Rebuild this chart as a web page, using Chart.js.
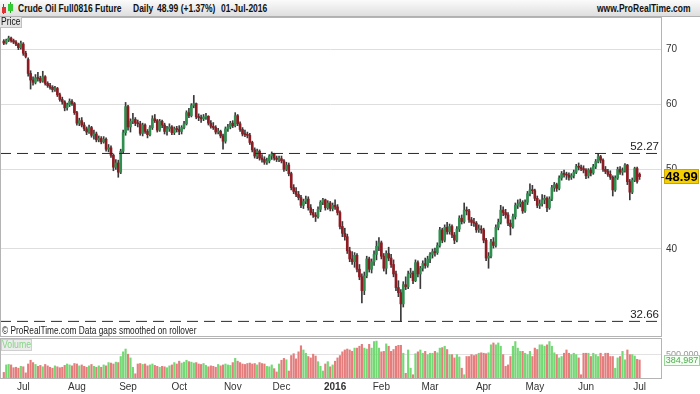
<!DOCTYPE html>
<html><head><meta charset="utf-8">
<script src="https://cdn.jsdelivr.net/npm/chart.js@4.4.1/dist/chart.umd.min.js"></script>
<style>
body{margin:0;width:700px;height:394px;overflow:hidden;background:#fff;position:relative;font-family:"Liberation Sans",Arial,sans-serif;color:#111}
.a{position:absolute;white-space:nowrap}
#hdr{left:0;top:0;width:700px;height:16px;background:linear-gradient(#fbfbfb,#dedede);border-bottom:1px solid #b0b0b0}
.ht{top:2px;font-size:10px;font-weight:bold;line-height:13px;transform:scaleX(0.85);transform-origin:0 0}
#pricebox{left:0;top:17px;width:21px;height:10px;background:#e4e4e4;border:1px solid #c0c0c0;border-top:none;border-left:none}
#pricetxt{left:1px;top:17px;font-size:10px;line-height:10px;transform:scaleX(0.85);transform-origin:0 0}
#pc,#vc{position:absolute;left:0}
#foot{left:2px;top:325px;font-size:10px;line-height:11px;color:#222;transform:scaleX(0.83);transform-origin:0 0}
.frame{border:1px solid #b4b4b4;box-sizing:border-box;pointer-events:none}
#vollbl{left:1px;top:339px;width:29px;height:10px;background:#ececec;border:1px solid #cfcfcf}
#voltxt{left:2px;top:339px;font-size:10px;line-height:11px;color:#86d486;transform:scaleX(0.87);transform-origin:0 0}
.lvl{font-size:11.5px;line-height:12px;color:#222;text-align:right}
#lastbox{left:664px;width:35px;height:15px;background:#f6cf00;border:1px solid #c9a400;box-sizing:border-box;font-weight:bold;font-size:13px;line-height:14px;text-align:center;color:#000}
#lasttick{left:661px;width:4px;height:1px;background:#555}
#vlast{left:664px;width:34px;height:9px;background:#f4fff4;border:1px solid #9ad69a;font-size:9px;line-height:9px;color:#4cab4c;text-align:center}
</style></head>
<body>
<div id="hdr" class="a"></div>
<div class="a" style="left:3px;top:4px;width:1px;height:10px;background:#a33"></div>
<div class="a" style="left:2px;top:7px;width:4px;height:6px;background:#d33"></div>
<div class="a" style="left:10px;top:2px;width:1px;height:11px;background:#393"></div>
<div class="a" style="left:8px;top:4px;width:5px;height:7px;background:#3c3"></div>
<div class="a ht" style="left:18px">Crude Oil Full0816 Future</div>
<div class="a ht" style="left:133px">Daily</div>
<div class="a ht" style="left:157px">48.99 (+1.37%)</div>
<div class="a ht" style="left:221px">01-Jul-2016</div>
<div class="a ht" style="left:597px">www.ProRealTime.com</div>

<canvas id="pc" width="700" height="320" style="top:17px"></canvas>
<canvas id="vc" width="700" height="57" style="top:337px"></canvas>
<div class="a frame" style="left:0;top:17px;width:662px;height:320px"></div>
<div class="a frame" style="left:0;top:338px;width:662px;height:41px"></div>
<div id="pricebox" class="a"></div>
<div id="pricetxt" class="a">Price</div>
<div id="foot" class="a">© ProRealTime.com Data gaps smoothed on rollover</div>
<div id="vollbl" class="a"></div>
<div id="voltxt" class="a">Volume</div>
<div id="hiLbl" class="a lvl" style="right:41px"></div>
<div id="loLbl" class="a lvl" style="right:41px"></div>
<div id="lasttick" class="a"></div>
<div id="lastbox" class="a"></div>
<div id="vlast" class="a"></div>

<script>
// ---- categories (trading days) ----
const firstDay = '2015-06-19', lastDay = '2016-07-01';
const holidays = ['2015-07-03','2015-09-07','2015-11-26','2015-12-25','2016-01-01','2016-01-18','2016-02-15','2016-03-25','2016-05-30'];
const monthNames = ['Jan','Feb','Mar','Apr','May','Jun','Jul','Aug','Sep','Oct','Nov','Dec'];
const priceTicks = [40, 50, 60, 70];
const volumeTicks = [500];
const levels = [52.27, 32.66];

// ---- series values ----
const open = [71.6,71.2,71.8,72.2,71.7,71.4,71.0,70.3,71.0,69.2,
68.0,65.4,64.2,63.8,64.6,64.5,64.0,64.8,63.6,63.2,
62.9,62.5,62.7,61.6,60.8,60.4,59.4,59.9,60.5,60.1,
58.6,56.9,57.3,56.6,56.0,55.5,56.2,55.0,55.2,54.3,
54.5,54.0,54.4,52.9,53.1,52.0,50.3,50.9,49.6,52.6,
55.4,59.6,56.3,57.2,57.5,56.9,56.8,55.3,56.6,55.6,
55.1,56.2,57.6,57.3,55.8,57.2,56.6,55.6,56.0,56.3,
55.4,56.0,55.9,55.6,56.2,56.8,58.6,58.1,59.8,60.1,
57.9,57.8,57.6,57.9,58.0,56.9,56.4,56.2,55.5,55.6,
54.9,54.1,56.0,56.3,56.9,56.5,58.1,56.8,55.9,55.2,
55.1,55.0,53.9,52.8,51.9,52.6,51.6,51.4,51.0,51.2,
51.9,52.2,51.6,51.4,51.5,51.2,50.0,50.6,49.4,47.5,
47.0,46.6,46.2,45.2,45.7,46.0,44.9,44.3,44.0,43.8,
44.7,45.6,45.9,44.9,45.5,44.8,45.2,45.0,44.3,42.6,
41.8,41.4,39.8,38.9,38.6,39.3,37.8,37.0,35.6,37.1,
38.9,37.8,38.6,39.4,40.3,40.7,39.2,37.9,39.5,39.0,
38.3,37.3,35.9,35.4,34.3,36.2,36.0,37.3,37.4,36.6,
38.5,37.3,37.9,38.4,38.2,38.9,39.4,39.7,39.6,40.4,
42.2,41.0,42.5,42.0,42.6,41.6,41.0,42.3,43.6,43.2,
44.6,44.5,43.4,43.1,43.0,42.2,42.3,42.2,41.0,39.0,
39.2,40.8,40.4,42.5,43.1,44.6,44.3,44.0,43.0,42.6,
43.8,45.2,45.4,45.6,44.5,45.6,46.7,47.2,47.1,46.1,
45.2,45.4,45.9,46.1,44.9,46.0,47.5,47.9,47.4,48.8,
49.4,49.3,49.2,48.9,49.1,49.6,50.4,50.3,50.1,49.9,
49.1,49.9,49.5,50.4,51.1,51.8,51.3,50.0,49.7,49.3,
48.9,47.2,48.8,50.0,49.6,49.8,50.6,48.3,46.9,48.5,
50.1,49.3];
const high = [71.9,72.0,72.6,72.4,72.0,71.7,71.2,71.6,71.3,69.6,
68.3,65.9,64.8,65.2,65.6,64.9,65.8,65.0,63.9,63.6,
63.2,63.1,62.9,61.9,61.2,60.6,60.2,60.9,60.8,60.3,
58.8,57.7,57.8,57.0,56.3,56.6,56.4,55.8,55.5,54.9,
54.8,54.8,54.6,53.6,53.4,52.2,51.4,51.3,52.9,55.8,
60.3,59.8,57.6,58.5,57.8,57.4,57.2,56.9,56.8,55.9,
56.5,58.1,58.3,57.5,57.5,57.4,56.9,56.4,56.8,56.5,
56.3,56.4,56.5,56.5,57.2,58.9,59.3,60.1,61.5,60.2,
58.4,58.2,58.3,58.5,58.1,57.3,57.0,56.5,56.1,55.8,
55.2,56.3,56.7,57.2,57.3,58.6,58.3,57.1,56.2,55.8,
55.5,55.3,54.1,53.1,52.9,52.8,52.1,51.8,51.6,52.1,
52.5,52.3,51.9,51.9,51.9,51.4,51.0,50.9,49.6,47.9,
47.5,47.0,46.5,46.0,46.4,46.3,45.3,44.7,44.3,45.0,
45.8,46.1,46.0,45.8,45.7,45.5,45.9,45.3,44.5,43.2,
42.4,41.7,40.2,39.7,39.6,39.5,38.3,37.3,37.5,39.2,
39.1,38.9,39.8,40.9,41.3,40.9,39.5,39.8,40.2,39.4,
38.8,37.6,36.6,35.7,36.5,37.0,37.6,37.9,37.6,38.8,
38.7,38.1,38.7,39.0,39.2,39.6,40.0,40.1,40.7,42.5,
42.4,42.8,43.1,42.9,42.8,41.9,42.6,43.9,44.0,45.5,
45.0,44.7,43.7,43.6,43.2,42.8,42.7,42.4,41.2,39.6,
41.1,41.3,42.8,43.5,45.2,45.0,44.7,44.3,43.4,44.1,
45.5,45.9,46.0,45.8,45.9,47.0,48.0,47.8,47.3,46.4,
45.9,46.6,46.5,46.3,46.3,47.8,48.2,48.1,49.1,49.7,
49.9,49.6,49.5,49.4,49.9,50.7,50.9,50.6,50.5,50.1,
50.1,50.2,50.7,51.4,52.27,52.0,51.5,50.4,50.0,49.8,
49.1,49.1,50.3,50.4,50.2,50.8,50.7,48.6,48.8,50.3,
50.3,49.5];
const low = [70.9,71.0,71.5,71.4,71.1,70.7,69.9,70.0,68.8,68.3,
64.9,62.6,63.3,63.5,64.0,63.7,63.8,63.3,62.9,62.6,
62.1,62.2,61.3,60.5,60.0,58.9,59.0,59.6,59.8,58.3,
56.6,56.5,56.3,55.7,55.1,55.3,54.7,54.4,54.0,54.0,
53.7,53.8,52.6,52.5,51.7,49.8,50.0,48.9,49.4,52.3,
55.0,55.8,55.5,56.8,56.5,56.3,55.0,54.9,55.3,54.6,
54.9,55.9,57.0,55.5,55.6,56.2,55.2,55.0,55.6,55.1,
55.1,55.5,55.1,55.2,56.0,56.6,57.8,57.9,59.4,57.6,
57.3,57.0,57.3,57.5,56.6,56.1,55.9,55.2,55.2,54.6,
52.9,53.8,55.6,56.0,56.2,56.3,56.5,55.6,54.9,54.8,
54.6,53.6,52.5,51.6,51.5,51.3,51.0,50.7,50.7,50.9,
51.4,51.3,51.1,51.1,50.9,49.7,49.8,49.1,47.2,46.7,
46.3,45.9,44.9,44.8,45.4,44.6,44.0,43.7,43.2,43.6,
44.4,45.3,44.6,44.7,44.5,44.5,44.7,44.0,42.3,41.4,
41.0,39.5,38.6,38.3,38.0,37.5,36.7,34.4,35.2,36.9,
37.5,37.4,38.2,38.8,39.8,38.9,37.6,37.3,38.7,38.0,
37.0,35.6,35.0,32.66,34.0,35.7,35.8,36.9,36.3,36.5,
37.0,35.8,37.6,37.9,38.0,38.5,39.0,39.2,39.4,40.2,
40.7,40.8,41.7,41.7,41.3,40.6,40.8,42.0,42.9,43.0,
44.0,43.1,42.7,42.6,41.9,41.9,41.8,40.7,38.7,37.9,
39.0,40.1,40.2,42.2,42.9,43.9,43.6,42.7,41.6,42.4,
43.5,44.8,45.0,44.2,44.3,45.3,46.4,46.7,45.8,44.9,
44.8,45.1,45.4,44.4,44.7,45.8,47.0,47.0,47.2,48.5,
48.9,48.6,48.5,48.6,48.8,49.4,49.9,49.8,49.5,48.7,
48.8,49.1,49.3,50.1,50.9,50.9,49.7,49.4,49.0,48.6,
46.4,47.0,48.6,49.3,49.2,49.6,47.9,45.9,46.7,48.3,
48.1,48.6];
const close = [71.2,71.8,72.2,71.7,71.4,71.0,70.3,71.2,69.2,68.6,
65.4,64.2,63.8,64.6,64.5,64.0,64.8,63.6,63.2,62.9,
62.5,62.7,61.6,60.8,60.4,59.4,59.9,60.5,60.1,58.6,
56.9,57.3,56.6,56.0,55.5,56.2,55.0,55.2,54.3,54.5,
54.0,54.4,52.9,53.1,52.0,50.3,50.9,49.6,52.6,55.4,
59.6,56.3,57.2,57.5,56.9,56.8,55.3,56.6,55.6,55.1,
56.2,57.6,57.3,55.8,57.2,56.6,55.6,56.0,56.3,55.4,
56.0,55.9,55.6,56.2,56.8,58.6,58.1,59.8,60.1,57.9,
57.8,57.6,57.9,58.0,56.9,56.4,56.2,55.5,55.6,54.9,
54.1,56.0,56.3,56.9,56.5,58.1,56.8,55.9,55.2,55.1,
55.0,53.9,52.8,51.9,52.6,51.6,51.4,51.0,51.2,51.9,
52.2,51.6,51.4,51.5,51.2,50.0,50.6,49.4,47.5,47.0,
46.6,46.2,45.2,45.7,46.0,44.9,44.3,44.0,43.8,44.7,
45.6,45.9,44.9,45.5,44.8,45.2,45.0,44.3,42.6,41.8,
41.4,39.8,38.9,38.6,39.3,37.8,37.0,35.6,37.1,38.9,
37.8,38.6,39.4,40.3,40.7,39.2,37.9,39.5,39.0,38.3,
37.3,35.9,35.4,34.3,36.2,36.0,37.3,37.4,36.6,38.5,
37.3,37.9,38.4,38.2,38.9,39.4,39.7,39.6,40.4,42.2,
41.0,42.5,42.0,42.6,41.6,41.0,42.3,43.6,43.2,44.6,
44.5,43.4,43.1,43.0,42.2,42.3,42.2,41.0,39.0,39.2,
40.8,40.4,42.5,43.1,44.6,44.3,44.0,43.0,42.6,43.8,
45.2,45.4,45.6,44.5,45.6,46.7,47.2,47.1,46.1,45.2,
45.4,45.9,46.1,44.9,46.0,47.5,47.9,47.4,48.8,49.4,
49.3,49.2,48.9,49.1,49.6,50.4,50.3,50.1,49.9,49.1,
49.9,49.5,50.4,51.1,51.8,51.3,50.0,49.7,49.3,48.9,
47.2,48.8,50.0,49.6,49.8,50.6,48.3,46.9,48.5,50.1,
48.33,48.99];
// volume in thousands of contracts
const volume = [120,280,290,280,220,230,210,250,240,110,
300,380,330,290,250,270,240,290,260,230,
210,260,240,220,230,270,300,280,260,310,
300,260,280,250,230,260,290,250,230,260,
230,280,260,330,320,300,340,330,460,560,
620,510,430,230,90,300,310,290,300,260,
280,300,270,250,230,250,240,220,260,280,
330,300,360,320,340,380,350,340,320,330,
300,290,310,270,240,260,250,230,290,260,
280,300,280,270,330,420,360,330,300,290,
310,320,300,310,280,330,310,300,250,240,
280,200,130,300,380,420,390,150,480,520,
410,560,690,600,530,460,430,510,470,350,
250,150,300,350,240,280,360,430,480,560,
600,620,600,570,640,640,680,720,640,620,
720,640,780,790,640,560,570,730,680,570,
610,680,700,700,530,100,600,210,70,520,
560,600,530,570,500,530,530,570,540,640,
650,680,610,500,500,430,500,450,210,70,
460,460,500,480,500,530,540,530,520,540,
710,750,710,750,680,500,250,280,460,680,
780,640,570,570,530,500,570,460,640,610,
710,710,680,710,780,680,540,500,430,460,
530,600,530,500,530,500,430,70,530,530,
530,460,530,500,460,530,460,530,530,460,
460,210,430,460,570,390,600,500,500,470,
400,384.987];

// ---- build categories ----
const dates = [];
for (let d = new Date(firstDay + 'T00:00:00Z'); d <= new Date(lastDay + 'T00:00:00Z'); d.setUTCDate(d.getUTCDate() + 1)) {
  const s = d.toISOString().slice(0, 10), wd = d.getUTCDay();
  if (wd === 0 || wd === 6 || holidays.includes(s)) continue;
  dates.push(s);
}
const monthTicks = [];
for (let i = 1; i < dates.length; i++) {
  if (dates[i].slice(5, 7) !== dates[i - 1].slice(5, 7)) {
    const m = +dates[i].slice(5, 7);
    monthTicks.push({ value: i, label: m === 1 ? dates[i].slice(0, 4) : monthNames[m - 1] });
  }
}

const F = '"Liberation Sans",Arial,sans-serif';
const UP = '#2f8f4f', DOWN = '#8e1b22';
const VUP = '#74d874', VDOWN = '#e57d7d';
const N = close.length;
const up = close.map((c, i) => c >= open[i]);
const xMin = -1.56, xMax = 269.8;

const wicks = close.map((c, i) => ({ x: i, y: [low[i], high[i]] }));
const bodies = close.map((c, i) => ({ x: i, y: [Math.min(open[i], c), Math.max(open[i], c)] }));
const vols = volume.map((v, i) => ({ x: i, y: v }));
const levelSets = levels.map(v => ({ type: 'line', data: [{ x: xMin, y: v }, { x: xMax, y: v }], borderColor: '#2a2a2a', borderWidth: 1, borderDash: [11, 6], pointRadius: 0, order: 0 }));

const priceChart = new Chart(document.getElementById('pc'), {
  type: 'bar',
  data: { datasets: [
    ...levelSets,
    { data: bodies, backgroundColor: up.map(u => u ? UP : DOWN), barThickness: 2, minBarLength: 1, grouped: false, order: 1 },
    { data: wicks, backgroundColor: '#3a3a3a', barThickness: 1, minBarLength: 1, grouped: false, order: 2 }
  ] },
  options: {
    responsive: false, animation: false, events: [],
    layout: { padding: { left: 0, right: 0, top: 0, bottom: 1 } },
    plugins: { legend: { display: false }, tooltip: { enabled: false } },
    scales: {
      x: { type: 'linear', min: xMin, max: xMax, display: false, offset: false, bounds: 'data' },
      y: { type: 'logarithmic', position: 'right', min: 31.35, max: 76.6, bounds: 'data',
        afterBuildTicks: s => { s.ticks = priceTicks.map(v => ({ value: v })); },
        afterFit: s => { s.width = 39; s.paddingTop = 0; s.paddingBottom = 0; },
        ticks: { color: '#333', font: { size: 10, family: F }, padding: 5, callback: v => String(v) },
        grid: { color: '#dedede', drawTicks: false },
        border: { display: false } }
    }
  }
});

const volChart = new Chart(document.getElementById('vc'), {
  type: 'bar',
  data: { datasets: [
    { data: vols, backgroundColor: up.map(u => u ? VUP : VDOWN), barThickness: 1.5, grouped: false }
  ] },
  options: {
    responsive: false, animation: false, events: [],
    layout: { padding: { left: 0, right: 0, top: 1, bottom: 0 } },
    plugins: { legend: { display: false }, tooltip: { enabled: false } },
    scales: {
      x: { type: 'linear', min: xMin, max: xMax, offset: false, bounds: 'data',
        afterBuildTicks: s => { s.ticks = monthTicks.map(t => ({ value: t.value })); },
        afterFit: s => { s.height = 16; s.paddingLeft = 0; s.paddingRight = 0; },
        ticks: { autoSkip: false, maxRotation: 0, padding: 3, color: '#333',
          callback: (v) => { const t = monthTicks.find(m => m.value === v); return t ? t.label : ''; },
          font: ctx => ({ size: 10, family: F, weight: (ctx.tick && ctx.tick.label === '2016') ? 'bold' : 'normal' }) },
        grid: { display: false, drawTicks: false },
        border: { display: false } },
      y: { position: 'right', min: 0, max: 856, bounds: 'data',
        afterBuildTicks: s => { s.ticks = volumeTicks.map(v => ({ value: v })); },
        afterFit: s => { s.width = 39; s.paddingTop = 0; s.paddingBottom = 0; },
        ticks: { color: '#999', font: { size: 9, family: F }, padding: 5, callback: v => (v * 1000).toLocaleString('en-US') },
        grid: { color: '#e2e2e2', drawTicks: false },
        border: { display: false } }
    }
  }
});

// ---- overlays positioned with the charts' own scales ----
const py = v => 17 + priceChart.scales.y.getPixelForValue(v);
const hiEl = document.getElementById('hiLbl'); hiEl.textContent = levels[0].toFixed(2); hiEl.style.top = (py(levels[0]) - 13) + 'px';
const loEl = document.getElementById('loLbl'); loEl.textContent = levels[1].toFixed(2); loEl.style.top = (py(levels[1]) - 13) + 'px';
const lastP = close[N - 1];
const lb = document.getElementById('lastbox'); lb.textContent = lastP.toFixed(2); lb.style.top = (py(lastP) - 8) + 'px';
document.getElementById('lasttick').style.top = Math.round(py(lastP)) + 'px';
const lastV = volume[N - 1];
const vl = document.getElementById('vlast'); vl.textContent = Math.round(lastV * 1000).toLocaleString('en-US');
vl.style.top = (337 + volChart.scales.y.getPixelForValue(lastV) - 5) + 'px';
</script>
</body></html>
